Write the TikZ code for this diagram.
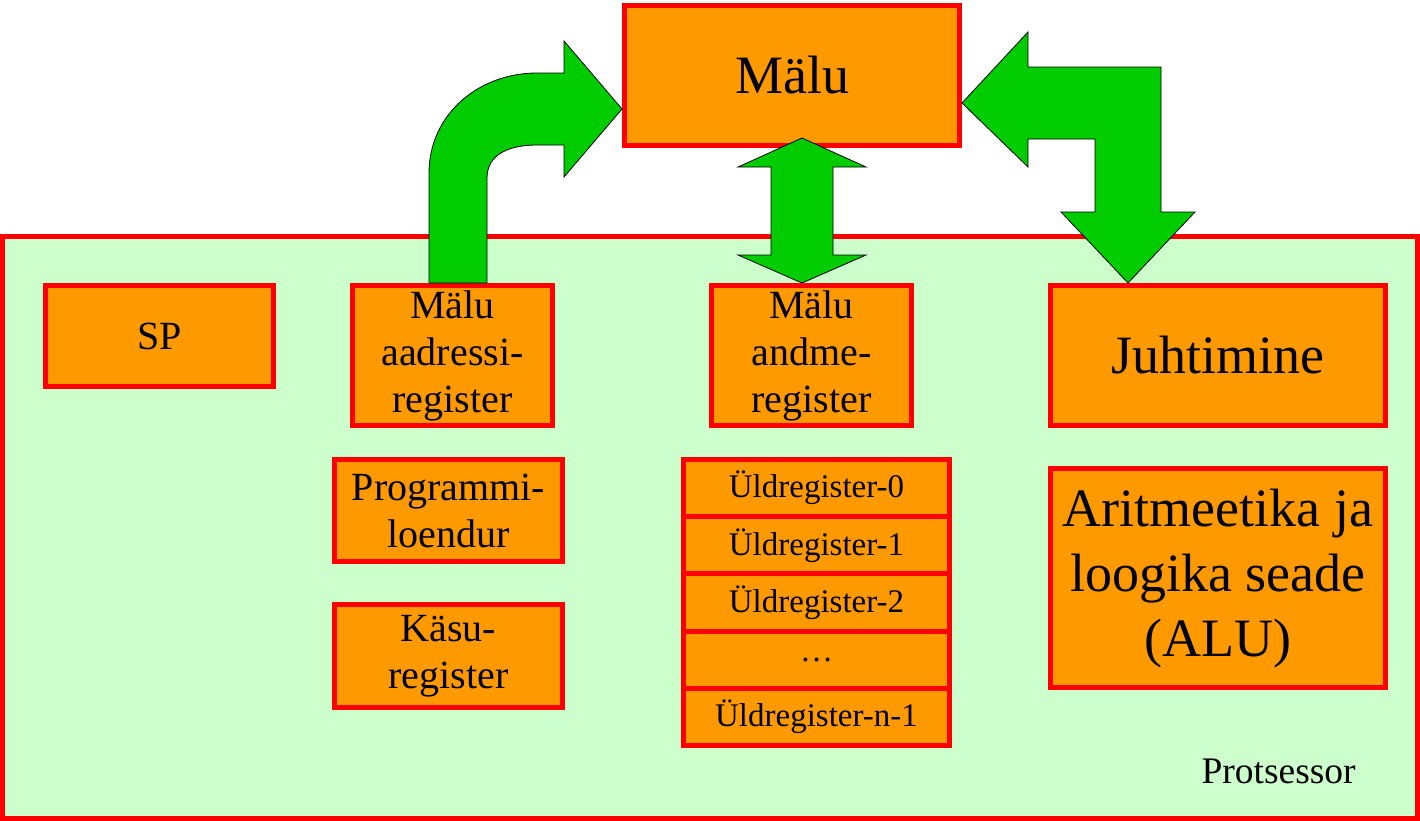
\documentclass[tikz,border=0pt]{standalone}
\usepackage{fontspec}
\setmainfont{Liberation Serif}
\usetikzlibrary{positioning,calc}
\definecolor{cOr}{HTML}{FF9900}
\definecolor{cRd}{HTML}{FF0000}
\definecolor{cBg}{HTML}{CCFFCC}
\definecolor{cGr}{HTML}{00CC00}
\tikzset{
  unit/.style={draw=cRd,line width=5pt,fill=cOr,align=center,inner sep=0pt},
  cpubox/.style={draw=cRd,line width=5pt,fill=cBg,inner sep=0pt},
  reg/.style={unit,font=\fontsize{40}{47}\selectfont},
  gpr/.style={unit,font=\fontsize{33}{40}\selectfont,
              minimum width=266pt,minimum height=57.2pt},
  big/.style={unit,font=\fontsize{54}{65}\selectfont},
  bus/.style={draw=black,line width=0.8pt,fill=cGr,line join=miter},
}

\begin{document}
\begin{tikzpicture}[x=1pt,y=-1pt]
  \useasboundingbox (0,0) rectangle (1420,820);
  % processor frame and memory
  \node[cpubox,minimum width=1415pt,minimum height=581.5pt] (cpu) at (710,527.25){};
  \node[anchor=base west,font=\fontsize{37.5}{44}\selectfont] (cpulbl) at (1198,783){Protsessor};
  \node[big,minimum width=335pt,minimum height=140pt] (mem) at (792,75.5){Mälu};
  % registers
  \node[reg,minimum width=228pt,minimum height=101pt] (sp) at (159.5,336){SP};
  \node[reg,minimum width=200pt,minimum height=140pt] (mar) at (452.5,355.5){Mälu\\aadressi-\\register};
  \node[reg,minimum width=200pt,minimum height=140pt] (mdr) at (811.5,355.5){Mälu\\andme-\\register};
  \node[reg,minimum width=228pt,minimum height=102pt] (pc) at (448.5,510.5){Programmi-\\loendur};
  \node[reg,minimum width=228pt,minimum height=103pt] (ir) at (448.5,656){Käsu-\\register};
  \node[gpr] (g0) at (816.5,488.1){Üldregister-0};
  \node[gpr,below=-5pt of g0] (g1){Üldregister-1};
  \node[gpr,below=-5pt of g1] (g2){Üldregister-2};
  \node[gpr,below=-5pt of g2] (gd){…};
  \node[gpr,below=-5pt of gd] (gn){Üldregister-n-1};
  \node[big,minimum width=335pt,minimum height=140pt] (juht) at (1218,355.5){Juhtimine};
  \node[big,minimum width=335pt,minimum height=219pt] (alu) at (1218,578){Aritmeetika ja\\loogika seade\\(ALU)};
  % buses
  \draw[bus] (mar.north -| 429,0) -- (429,173)
    .. controls (429,115) and (478,73) .. (537,73) -- (564,73) -- (564,41)
    -- (mem.west |- 0,109) -- (564,177) -- (564,145) -- (537,145)
    .. controls (508,145) and (487,155) .. (487,178) -- (mar.north -| 487,0) -- cycle;
  \draw[bus] (802,138) -- (866,167) -- (833,167) -- (833,255) -- (866,255)
    -- (mdr.north -| 802,0) -- (738,255) -- (771,255) -- (771,167)
    -- (738,167) -- cycle;
  \draw[bus] (mem.east |- 0,103) -- (1028,32) -- (1028,67) -- (1161,67)
    -- (1161,212) -- (1195,212) -- (juht.north -| 1128,0) -- (1061,212)
    -- (1095,212) -- (1095,139) -- (1028,139) -- (1028,167) -- cycle;
\end{tikzpicture}
\end{document}
